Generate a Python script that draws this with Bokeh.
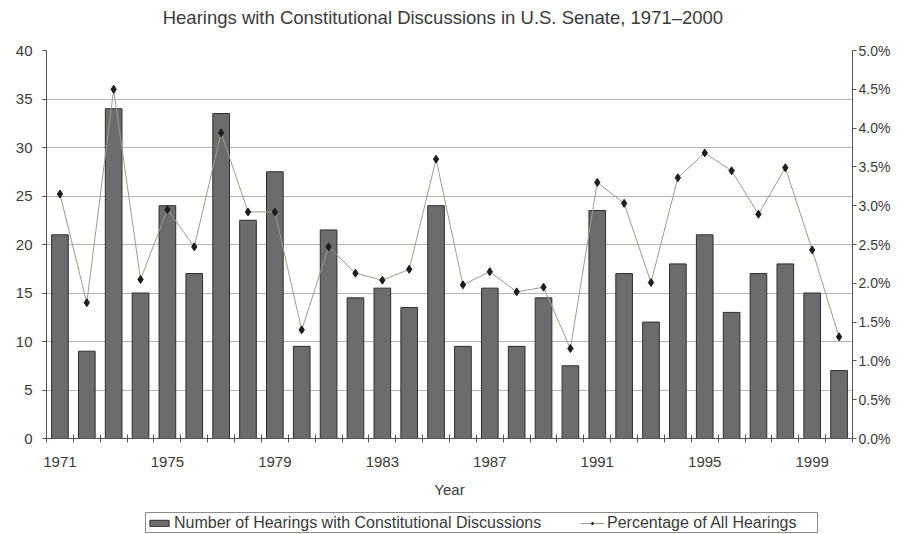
from bokeh.plotting import figure
from bokeh.layouts import column
from bokeh.models import (Range1d, LinearAxis, FixedTicker, CustomJSTickFormatter,
                          Legend, LegendItem, ColumnDataSource, Label, BoxAnnotation)
from bokeh.embed import file_html
from bokeh.resources import INLINE

# ---- data ----
years = list(range(1971, 2001))
hearings = [21, 9, 34, 15, 24, 17, 33.5, 22.5, 27.5, 9.5,
            21.5, 14.5, 15.5, 13.5, 24, 9.5, 15.5, 9.5, 14.5, 7.5,
            23.5, 17, 12, 18, 21, 13, 17, 18, 15, 7]
pct = [3.15, 1.75, 4.5, 2.05, 2.95, 2.47, 3.94, 2.92, 2.92, 1.4,
       2.47, 2.13, 2.04, 2.18, 3.6, 1.98, 2.15, 1.89, 1.95, 1.16,
       3.3, 3.03, 2.01, 3.36, 3.68, 3.45, 2.89, 3.49, 2.43, 1.31]
x_tick_years = [1971, 1975, 1979, 1983, 1987, 1991, 1995, 1999]
left_ticks = [0, 5, 10, 15, 20, 25, 30, 35, 40]
right_ticks = [0, 0.5, 1.0, 1.5, 2.0, 2.5, 3.0, 3.5, 4.0, 4.5, 5.0]

title_text = "Hearings  with Constitutional Discussions in U.S. Senate, 1971\u20132000"
bar_label = "Number of Hearings with Constitutional Discussions"
line_label = "Percentage of All Hearings"
x_label = "Year"

FONT = "Liberation Sans"
TXT = "#3a3a3a"
AX = "#555555"
BAR_FILL = "#6c6c6c"
BAR_LINE = "#2e2e2e"
LINE_COL = "#9c9c8c"
MARK_COL = "#1e1e1e"

W = 912
TITLE_H = 34
LEG_H = 28
MAIN_H = 534 - TITLE_H - LEG_H
FRAME_LEFT = 46   # the column aligns every strip's frame with the chart's frame
FRAME_RIGHT = 852
LEG_Y0 = 1000     # legend strip's y range starts far above the data, so no mark shows there

src = ColumnDataSource(dict(year=years, hearings=hearings, pct=pct))

# ---- title strip ----
tf = figure(width=W, height=TITLE_H, output_backend="svg", toolbar_location=None,
            x_range=Range1d(0, 1), y_range=Range1d(0, 1),
            x_axis_type=None, y_axis_type=None,
            min_border_left=0, min_border_right=0, min_border_top=0, min_border_bottom=0)
tf.grid.visible = False
tf.outline_line_color = None
tf.add_layout(Label(x=445 - FRAME_LEFT, y=17, x_units="screen", y_units="screen",
                    text=title_text, text_align="center", text_baseline="middle",
                    text_font=FONT, text_font_size="18.5px", text_color=TXT))

# ---- main chart ----
p = figure(width=W, height=MAIN_H, output_backend="svg", toolbar_location=None,
           x_range=Range1d(1970.5, 2000.5), y_range=Range1d(0, 40),
           min_border_left=FRAME_LEFT, min_border_right=W - FRAME_RIGHT, min_border_top=16,
           min_border_bottom=68)
p.extra_y_ranges = {"pct": Range1d(0, 5)}
p.outline_line_color = None
p.background_fill_color = "white"

p.vbar(x="year", top="hearings", width=0.62, source=src,
       fill_color=BAR_FILL, line_color=BAR_LINE, line_width=1)
p.line(x="year", y="pct", source=src, y_range_name="pct",
       line_color=LINE_COL, line_width=1)
p.scatter(x="year", y="pct", source=src, y_range_name="pct",
          marker="diamond", size=8, fill_color=MARK_COL, line_color=MARK_COL)

# x axis
xa = p.xaxis[0]
xa.ticker = FixedTicker(ticks=x_tick_years, minor_ticks=[y + 0.5 for y in range(1970, 2001)])
xa.major_tick_line_color = None
xa.major_tick_in = 0
xa.major_tick_out = 0
xa.minor_tick_in = 4
xa.minor_tick_out = 4
xa.minor_tick_line_color = AX
xa.axis_line_color = AX
xa.major_label_standoff = 14
xa.major_label_text_font = FONT
xa.major_label_text_font_size = "15px"
xa.major_label_text_color = TXT
xa.axis_label = x_label
xa.axis_label_text_font = FONT
xa.axis_label_text_font_size = "15px"
xa.axis_label_text_font_style = "normal"
xa.axis_label_text_color = TXT
xa.axis_label_standoff = 11

# left axis
ya = p.yaxis[0]
ya.ticker = FixedTicker(ticks=left_ticks)
ya.minor_tick_line_color = None
ya.major_tick_in = 0
ya.major_tick_out = 4
ya.major_tick_line_color = AX
ya.axis_line_color = AX
ya.major_label_standoff = 10
ya.major_label_text_font = FONT
ya.major_label_text_font_size = "15px"
ya.major_label_text_color = TXT

# right axis
ra = LinearAxis(y_range_name="pct", ticker=FixedTicker(ticks=right_ticks),
                formatter=CustomJSTickFormatter(code="return tick.toFixed(1) + '%';"))
ra.minor_tick_line_color = None
ra.major_tick_in = 0
ra.major_tick_out = 4
ra.major_tick_line_color = AX
ra.axis_line_color = AX
ra.major_label_standoff = 2
ra.major_label_text_font = FONT
ra.major_label_text_font_size = "14px"
ra.major_label_text_color = TXT
p.add_layout(ra, "right")

# grid
p.xgrid.grid_line_color = None
p.ygrid.ticker = FixedTicker(ticks=[5, 10, 15, 20, 25, 30, 35])
p.ygrid.grid_line_color = "#b4b4b4"
p.ygrid.grid_line_width = 1

# ---- legend strip (axis-less figure in page pixels; its data lie outside its ranges) ----
lf = figure(width=W, height=LEG_H, output_backend="svg", toolbar_location=None,
            x_range=Range1d(-FRAME_RIGHT, -FRAME_LEFT), y_range=Range1d(LEG_Y0, LEG_Y0 + LEG_H),
            x_axis_type=None, y_axis_type=None,
            min_border_left=0, min_border_right=0, min_border_top=0, min_border_bottom=0)
lf.grid.visible = False
lf.outline_line_color = None
lb = lf.vbar(x="year", top="hearings", width=0.62, source=src,
             fill_color=BAR_FILL, line_color=BAR_LINE, line_width=1)
ll = lf.line(x="year", y="pct", source=src, line_color=LINE_COL, line_width=1)
lp = lf.scatter(x="year", y="pct", source=src, marker="diamond", size=8,
                fill_color=MARK_COL, line_color=MARK_COL)

leg_style = dict(orientation="horizontal", label_text_font=FONT, label_text_font_size="16px",
                 label_text_color=TXT, glyph_width=24, glyph_height=8, label_height=16,
                 label_standoff=3, padding=1, margin=0,
                 border_line_color=None, background_fill_alpha=0)
leg1 = Legend(items=[LegendItem(label=bar_label, renderers=[lb])],
              location=(147 - FRAME_LEFT, 2), **leg_style)
leg2 = Legend(items=[LegendItem(label=line_label, renderers=[ll, lp])],
              location=(580 - FRAME_LEFT, 2), **leg_style)
lf.add_layout(leg1, "center")
lf.add_layout(leg2, "center")
# legend frame, in the strip's page-pixel coordinates
lf.add_layout(BoxAnnotation(left=-(FRAME_RIGHT + FRAME_LEFT) + 145,
                            right=-(FRAME_RIGHT + FRAME_LEFT) + 817,
                            bottom=LEG_Y0 + 2, top=LEG_Y0 + 22,
                            fill_alpha=0, line_color="#8a8a8a", line_width=1, line_alpha=1))

layout = column(tf, p, lf, spacing=0)
open("out.html", "w").write(file_html(layout, INLINE))
